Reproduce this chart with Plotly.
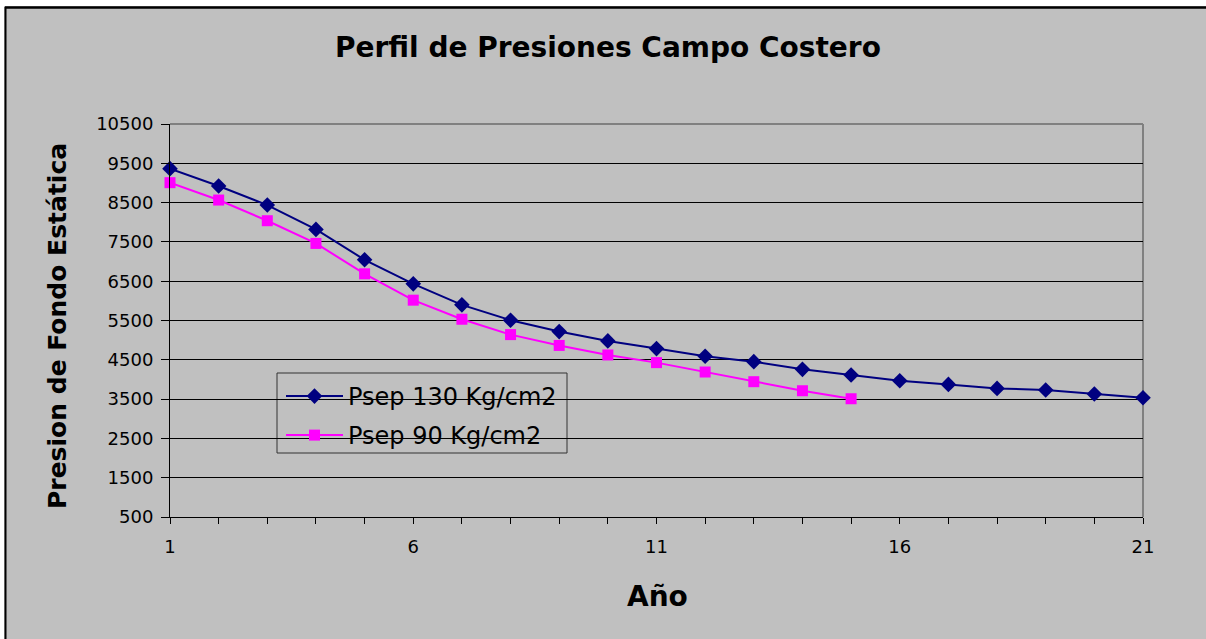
import plotly.graph_objects as go

# ---- data ----
years_130 = list(range(1, 22))
psep_130 = [9364, 8922, 8438, 7818, 7045, 6433, 5898, 5507, 5218, 4981,
            4785, 4589, 4453, 4257, 4113, 3968, 3874, 3772, 3730, 3628, 3534]
years_90 = list(range(1, 16))
psep_90 = [9007, 8565, 8039, 7461, 6688, 6017, 5532, 5141, 4866, 4623,
           4428, 4189, 3943, 3713, 3509]
name_130 = "Psep 130 Kg/cm2"
name_90 = "Psep 90 Kg/cm2"
x_ticks = [1, 6, 11, 16, 21]
y_ticks = [500, 1500, 2500, 3500, 4500, 5500, 6500, 7500, 8500, 9500, 10500]
title_text = "Perfil de Presiones Campo Costero"
x_title = "Año"
y_title = "Presion de Fondo Estática"

W, H = 1206, 639
L, R, T, B = 170, 63, 124, 122
PW, PH = W - L - R, H - T - B


def px(x):
    return (x - L) / PW


def py(y):
    return (H - B - y) / PH


FONT = "DejaVu Sans"
BG = "#C0C0C0"

fig = go.Figure()
fig.add_trace(go.Scatter(
    x=years_130, y=psep_130, name=name_130, mode="lines+markers",
    line=dict(color="#000080", width=2),
    marker=dict(symbol="diamond", size=12, color="#000080"),
    cliponaxis=False, legend="legend", showlegend=True))
fig.add_trace(go.Scatter(
    x=years_90, y=psep_90, name=name_90, mode="lines+markers",
    line=dict(color="#FF00FF", width=2),
    marker=dict(symbol="square", size=11, color="#FF00FF"),
    cliponaxis=False, legend="legend2", showlegend=True))

shapes = [
    # white strips outside the chart area (top and left), with black frame
    dict(type="rect", xref="paper", yref="paper",
         x0=px(0), x1=px(W), y0=py(6), y1=py(0),
         line=dict(width=0), fillcolor="white", layer="below"),
    dict(type="rect", xref="paper", yref="paper",
         x0=px(0), x1=px(4), y0=py(H), y1=py(0),
         line=dict(width=0), fillcolor="white", layer="below"),
    dict(type="line", xref="paper", yref="paper",
         x0=px(5), x1=px(W), y0=py(7.5), y1=py(7.5),
         line=dict(color="black", width=2.5), layer="below"),
    dict(type="line", xref="paper", yref="paper",
         x0=px(5.5), x1=px(5.5), y0=py(7), y1=py(H),
         line=dict(color="black", width=2), layer="below"),
    # plot area top/right border
    dict(type="line", xref="paper", yref="paper", x0=0, x1=1, y0=1, y1=1,
         line=dict(color="#808080", width=2), layer="between"),
    dict(type="line", xref="paper", yref="paper", x0=1, x1=1, y0=0, y1=1,
         line=dict(color="#808080", width=2), layer="between"),
    # legend box
    dict(type="rect", xref="paper", yref="paper",
         x0=px(277), x1=px(567), y0=py(453), y1=py(373),
         line=dict(color="#333333", width=1), fillcolor=BG, layer="between"),
]

annotations = [
    dict(text="<b>" + title_text + "</b>", xref="paper", yref="paper",
         x=px(608), y=py(47), xanchor="center", yanchor="middle",
         showarrow=False, font=dict(family=FONT, size=28, color="black")),
    dict(text="<b>" + x_title + "</b>", xref="paper", yref="paper",
         x=px(657), y=py(596), xanchor="center", yanchor="middle",
         showarrow=False, font=dict(family=FONT, size=28, color="black")),
    dict(text="<b>" + y_title + "</b>", xref="paper", yref="paper",
         x=px(57), y=py(326), xanchor="center", yanchor="middle",
         textangle=-90, showarrow=False,
         font=dict(family=FONT, size=25, color="black")),
]

fig.update_layout(
    width=W, height=H, autosize=False, showlegend=True,
    margin=dict(l=L, r=R, t=T, b=B, pad=0),
    paper_bgcolor=BG, plot_bgcolor=BG,
    font=dict(family=FONT, size=18, color="black"),
    shapes=shapes, annotations=annotations,
    legend=dict(x=px(281), y=py(374), xanchor="left", yanchor="top",
                bgcolor="rgba(0,0,0,0)", borderwidth=0, itemwidth=57,
                font=dict(family=FONT, size=24, color="black")),
    legend2=dict(x=px(281), y=py(413), xanchor="left", yanchor="top",
                 bgcolor="rgba(0,0,0,0)", borderwidth=0, itemwidth=57,
                 font=dict(family=FONT, size=24, color="black")),
    xaxis=dict(range=[1, 21], tickvals=x_ticks, ticktext=[str(v) for v in x_ticks],
               showgrid=False, zeroline=False, showline=True, linecolor="black",
               linewidth=1, ticks="outside", ticklen=6, tickcolor="black",
               ticklabelstandoff=7,
               tickfont=dict(family=FONT, size=18, color="black"),
               minor=dict(tickmode="linear", tick0=1, dtick=1, ticks="outside",
                          ticklen=6, tickcolor="black", showgrid=False),
               fixedrange=True),
    yaxis=dict(range=[500, 10500], tickvals=y_ticks, ticktext=[str(v) for v in y_ticks],
               showgrid=True, gridcolor="black", gridwidth=1, zeroline=False,
               showline=True, linecolor="black", linewidth=1, ticks="outside",
               ticklen=8, tickcolor="black", ticklabelstandoff=4,
               tickfont=dict(family=FONT, size=18, color="black"), fixedrange=True),
)

fig.write_html("out.html")
